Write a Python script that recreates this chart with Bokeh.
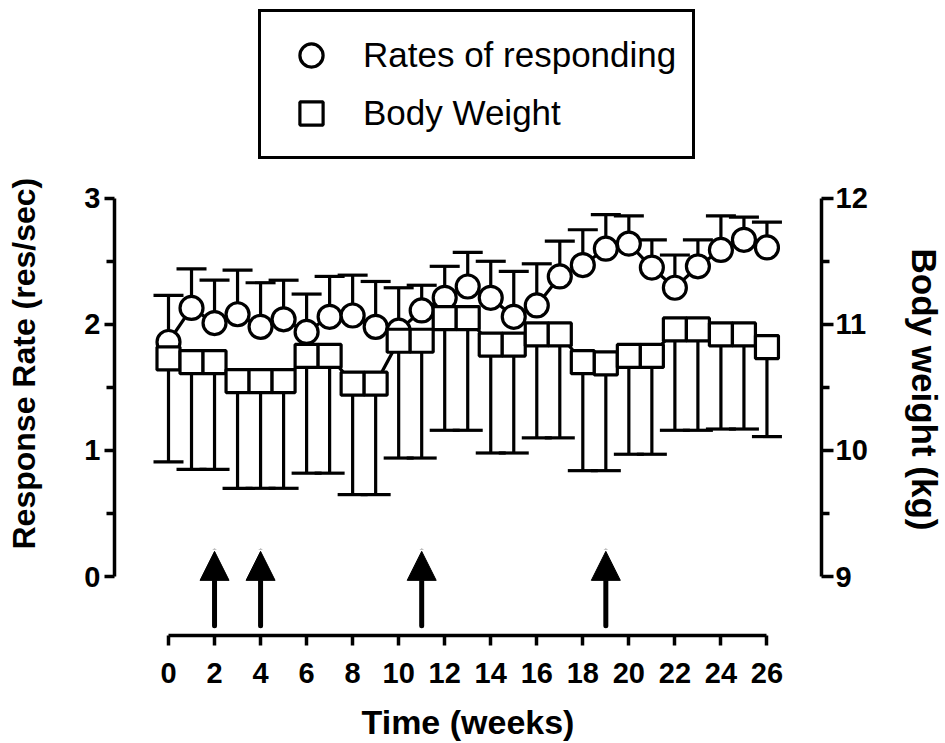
from bokeh.plotting import figure
from bokeh.models import (Range1d, LinearAxis, FixedTicker, Whisker, TeeHead, Title,
                          ColumnDataSource, Arrow, NormalHead, Legend, LegendItem)
from bokeh.embed import file_html
from bokeh.resources import INLINE

# ---------------- data ----------------
weeks = list(range(27))
rate = [1.86, 2.13, 2.01, 2.08, 1.98, 2.04, 1.94, 2.06, 2.07, 1.98,
        1.95, 2.11, 2.21, 2.30, 2.21, 2.06, 2.15, 2.38, 2.47, 2.60,
        2.64, 2.45, 2.29, 2.46, 2.59, 2.67, 2.61]
rate_err = [0.37, 0.31, 0.34, 0.35, 0.35, 0.31, 0.30, 0.32, 0.32, 0.36,
            0.34, 0.20, 0.25, 0.27, 0.29, 0.36, 0.33, 0.28, 0.28, 0.27,
            0.22, 0.22, 0.26, 0.21, 0.27, 0.18, 0.20]
weight = [10.73, 10.70, 10.70, 10.55, 10.55, 10.55, 10.75, 10.75, 10.53, 10.53,
          10.87, 10.87, 11.05, 11.05, 10.84, 10.84, 10.92, 10.92, 10.70, 10.69,
          10.75, 10.75, 10.96, 10.96, 10.92, 10.92, 10.82]
weight_err = [0.82, 0.85, 0.85, 0.85, 0.85, 0.85, 0.93, 0.93, 0.88, 0.88,
              0.93, 0.93, 0.89, 0.89, 0.86, 0.86, 0.82, 0.82, 0.86, 0.85,
              0.78, 0.78, 0.80, 0.80, 0.75, 0.75, 0.71]
arrow_weeks = [2, 4, 11, 19]
x_ticks = list(range(0, 27, 2))
rate_ticks = [0, 1, 2, 3]
weight_ticks = [9, 10, 11, 12]
series_labels = ["Rates of responding", "Body Weight"]
x_title = "Time (weeks)"
left_title = "Response Rate (res/sec)"
right_title = "Body weight (kg)"

# ---------------- sources ----------------
src = ColumnDataSource(dict(
    week=weeks,
    rate=rate,
    rate_top=[r + e for r, e in zip(rate, rate_err)],
    weight=weight,
    weight_low=[w - e for w, e in zip(weight, weight_err)],
))
ARROW_BASE, ARROW_TIP = -0.39, 0.20
asrc = ColumnDataSource(dict(x=arrow_weeks,
                             y0=[ARROW_BASE] * len(arrow_weeks),
                             y1=[ARROW_TIP] * len(arrow_weeks)))

FONT = "Liberation Sans"
LW = 3.2

p = figure(width=945, height=743,
           x_range=Range1d(-2.346, 28.37), y_range=Range1d(-0.467, 4.528),
           output_backend="svg", toolbar_location=None,
           min_border_left=114, min_border_right=120,
           min_border_top=5, min_border_bottom=107)
p.extra_y_ranges = {"bw": Range1d(8.533, 13.528)}
p.grid.visible = False
p.outline_line_color = None
p.background_fill_color = "white"
p.border_fill_color = "white"

# error bars (behind markers)
p.add_layout(Whisker(source=src, base="week", upper="rate_top", lower="rate",
                     dimension="height", line_color="black", line_width=LW,
                     upper_head=TeeHead(size=30, line_width=LW, line_color="black"),
                     lower_head=None, level="underlay"))
p.add_layout(Whisker(source=src, base="week", upper="weight", lower="weight_low",
                     dimension="height", line_color="black", line_width=LW,
                     y_range_name="bw",
                     lower_head=TeeHead(size=30, line_width=LW, line_color="black"),
                     upper_head=None, level="underlay"))

p.line("week", "rate", source=src, line_color="black", line_width=LW)
r1 = p.scatter("week", "rate", source=src, marker="circle", size=23,
               fill_color="white", line_color="black", line_width=LW)
p.line("week", "weight", source=src, y_range_name="bw",
       line_color="black", line_width=LW)
r2 = p.scatter("week", "weight", source=src, y_range_name="bw", marker="square",
               size=23, fill_color="white", line_color="black", line_width=LW)

# arrows
p.add_layout(Arrow(end=NormalHead(size=29, fill_color="black", line_color="black", line_width=1),
                   x_start="x", y_start="y0", x_end="x", y_end="y1", source=asrc,
                   line_width=5, line_cap="round", line_color="black"))

# axes
def style_axis(ax, tick_out, minor_out, label_standoff, title_size, title_standoff):
    ax.axis_line_width = 3.5
    ax.axis_line_color = "black"
    ax.major_tick_line_width = 3.5
    ax.minor_tick_line_width = 3.5
    ax.major_tick_in = 0
    ax.minor_tick_in = 0
    ax.major_tick_out = tick_out
    ax.minor_tick_out = minor_out
    ax.major_label_text_font = FONT
    ax.major_label_text_font_style = "bold"
    ax.major_label_text_font_size = "29px"
    ax.major_label_text_color = "black"
    ax.major_label_standoff = label_standoff
    ax.axis_label_text_font = FONT
    ax.axis_label_text_font_style = "bold"
    ax.axis_label_text_font_size = title_size
    ax.axis_label_text_color = "black"
    ax.axis_label_standoff = title_standoff

xa = p.xaxis[0]
xa.ticker = FixedTicker(ticks=x_ticks)
xa.bounds = (x_ticks[0], x_ticks[-1])
xa.axis_label = x_title
style_axis(xa, 10, 0, 17, "34px", 17)

# y axes: a blank axis label only reserves space; the titles are Title annotations
ya = p.yaxis[0]
ya.ticker = FixedTicker(ticks=rate_ticks, minor_ticks=[t + 0.5 for t in rate_ticks[:-1]])
ya.bounds = (rate_ticks[0], rate_ticks[-1])
ya.axis_label = " "
style_axis(ya, 10, 8, 4, "20px", 15)

ra = LinearAxis(y_range_name="bw",
                ticker=FixedTicker(ticks=weight_ticks, minor_ticks=[t + 0.5 for t in weight_ticks[:-1]]),
                bounds=(weight_ticks[0], weight_ticks[-1]), axis_label=" ")
style_axis(ra, 12, 8, 2, "20px", 9)
p.add_layout(ra, "right")

p.add_layout(Title(text=left_title, align="left", vertical_align="bottom", offset=86, standoff=0,
                   text_font=FONT, text_font_style="bold", text_font_size="32px",
                   text_color="black"), "left")
p.add_layout(Title(text=right_title, align="left", vertical_align="bottom", offset=243, standoff=0,
                   text_font=FONT, text_font_style="bold", text_font_size="35px",
                   text_color="black"), "right")

legend = Legend(items=[LegendItem(label=series_labels[0], renderers=[r1]),
                       LegendItem(label=series_labels[1], renderers=[r2])],
                location=(144, 476), glyph_width=72, glyph_height=58,
                spacing=0, padding=14, label_standoff=16, label_width=315, margin=0,
                label_text_font=FONT, label_text_font_size="35px",
                label_text_color="black",
                border_line_color="black", border_line_width=3.5, border_line_alpha=1.0,
                background_fill_color="white", background_fill_alpha=1.0)
p.add_layout(legend)

open("out.html", "w").write(file_html(p, INLINE))
